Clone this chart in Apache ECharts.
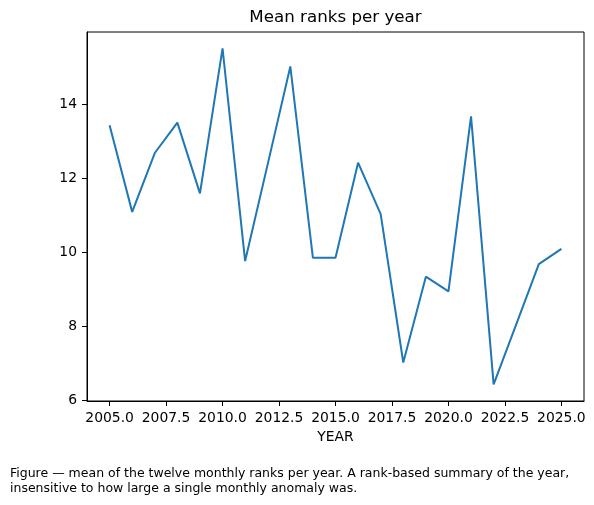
<!DOCTYPE html>
<html>
<head>
<meta charset="utf-8">
<script src="https://cdn.jsdelivr.net/npm/echarts@6/dist/echarts.min.js"></script>
<style>
html,body{margin:0;padding:0;background:#fff;}
#chart{width:594px;height:505px;}
</style>
</head>
<body>
<div id="chart"></div>
<script>
const years = [2005,2006,2007,2008,2009,2010,2011,2012,2013,2014,2015,2016,2017,2018,2019,2020,2021,2022,2023,2024,2025];
const meanRanks = [13.43,11.09,12.68,13.50,11.59,15.51,9.76,12.38,15.02,9.85,9.85,12.42,11.03,7.02,9.34,8.94,13.67,6.43,8.05,9.68,10.09];
const xTicks = [2005,2007.5,2010,2012.5,2015,2017.5,2020,2022.5,2025];
const yTicks = [6,8,10,12,14];
const titleText = 'Mean ranks per year';
const xName = 'YEAR';
const captionText = 'Figure \u2014 mean of the twelve monthly ranks per year. A rank-based summary of the year,\ninsensitive to how large a single monthly anomaly was.';

const font = 'DejaVu Sans';
const chart = echarts.init(document.getElementById('chart'), null, {renderer:'canvas'});
chart.setOption({
  animation: false,
  backgroundColor: '#fff',
  title: [
    {text: titleText, left: 335.5, textAlign: 'center', top: 9, padding: 0,
     textStyle: {fontFamily: font, fontSize: 16.7, fontWeight: 'normal', color: '#000'}},
    {text: captionText, left: 10, top: 466, padding: 0,
     textStyle: {fontFamily: font, fontSize: 12.5, fontWeight: 'normal', color: '#000', lineHeight: 15}}
  ],
  grid: {left: 87, right: 10, top: 32, bottom: 104, show: true, borderColor: '#000', borderWidth: 1, backgroundColor: 'transparent'},
  xAxis: {
    type: 'value', min: 2004, max: 2026,
    name: xName, nameLocation: 'middle', nameGap: 29,
    nameTextStyle: {fontFamily: font, fontSize: 13.9, color: '#000'},
    axisLine: {show: true, lineStyle: {color: '#000', width: 1}},
    axisTick: {show: true, length: 5, customValues: xTicks, lineStyle: {color: '#000', width: 1}},
    axisLabel: {customValues: xTicks, margin: 10, fontFamily: font, fontSize: 13.9, color: '#000',
      formatter: v => Number(v).toFixed(1)},
    splitLine: {show: false}
  },
  yAxis: {
    type: 'value', min: 5.98, max: 15.95,
    axisLine: {show: true, lineStyle: {color: '#000', width: 1}},
    axisTick: {show: true, length: 5, customValues: yTicks, lineStyle: {color: '#000', width: 1}},
    axisLabel: {customValues: yTicks, margin: 10, fontFamily: font, fontSize: 13.9, color: '#000',
      formatter: v => String(v)},
    splitLine: {show: false}
  },
  series: [{
    type: 'line',
    data: years.map((y, i) => [y, meanRanks[i]]),
    showSymbol: false,
    symbol: 'none',
    lineStyle: {color: '#1f77b4', width: 2},
    itemStyle: {color: '#1f77b4'}
  }]
});
</script>
</body>
</html>
